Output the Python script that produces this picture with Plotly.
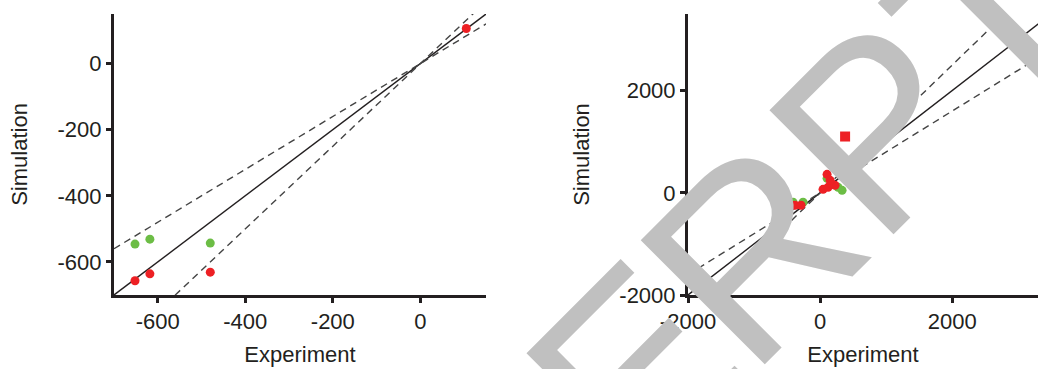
import plotly.graph_objects as go

# ---- left panel data ----
left_green_x = [-652, -618, -480]
left_green_y = [-546, -531, -543]
left_red_x = [-652, -618, -480, 105]
left_red_y = [-657, -636, -631, 106]

# ---- right panel data ----
right_green_x = [-409, -258, 106, 273, 333]
right_green_y = [-185, -185, 283, 107, 49]
right_red_x = [-379, -288, 45, 121, 182, 106, 227, 152]
right_red_y = [-244, -244, 68, 107, 166, 361, 146, 244]
right_sq_x = [379]
right_sq_y = [1102]

# reference guide slopes: 1:1 and the two bounding lines
guide_slopes = [0.8, 1.25]

left_range = [-700, 150]
left_ticks = [-600, -400, -200, 0]
left_ticklabels = ["-600", "-400", "-200", "0"]
right_xrange = [-2000, 3300]
right_yrange = [-2000, 3500]
right_ticks = [-2000, 0, 2000]
right_ticklabels = ["-2000", "0", "2000"]

INK = "#231f20"
RED = "#ed2024"
GREEN = "#6cbd45"
DASH = "#444444"
FONT = "Liberation Sans, Arial, sans-serif"

fig = go.Figure()


def add_guides(xr, xa, ya):
    x0, x1 = xr
    fig.add_trace(go.Scatter(x=[x0, x1], y=[x0, x1], mode="lines",
                             line=dict(color=INK, width=1.4),
                             xaxis=xa, yaxis=ya, showlegend=False, hoverinfo="skip"))
    for k in guide_slopes:
        fig.add_trace(go.Scatter(x=[x0, x1], y=[k * x0, k * x1], mode="lines",
                                 line=dict(color=DASH, width=1.4, dash="7px,5px"),
                                 xaxis=xa, yaxis=ya, showlegend=False, hoverinfo="skip"))


def add_points(x, y, color, xa, ya, symbol="circle", size=9):
    fig.add_trace(go.Scatter(x=x, y=y, mode="markers",
                             marker=dict(color=color, size=size, symbol=symbol,
                                         line=dict(width=0)),
                             xaxis=xa, yaxis=ya, showlegend=False, cliponaxis=False))


add_guides(left_range, "x", "y")
add_points(left_green_x, left_green_y, GREEN, "x", "y")
add_points(left_red_x, left_red_y, RED, "x", "y")

add_guides([-2000, 3500], "x2", "y2")
add_points(right_green_x, right_green_y, GREEN, "x2", "y2")
add_points(right_red_x, right_red_y, RED, "x2", "y2")
add_points(right_sq_x, right_sq_y, RED, "x2", "y2", symbol="square", size=10)

W, H = 1038, 369
y_dom = [(H - 295) / H, (H - 14) / H]

axis_common = dict(
    showline=True, linewidth=3, linecolor=INK,
    ticks="outside", ticklen=5, tickwidth=3, tickcolor=INK,
    showgrid=False, zeroline=False, automargin=False,
    tickfont=dict(family=FONT, size=22, color=INK),
    title_font=dict(family=FONT, size=22, color=INK),
)

fig.update_layout(
    width=W, height=H,
    margin=dict(l=0, r=0, t=0, b=0),
    paper_bgcolor="white", plot_bgcolor="white",
    xaxis=dict(domain=[114 / W, 486 / W], range=left_range, anchor="y",
               tickmode="array", tickvals=left_ticks, ticktext=left_ticklabels,
               title=dict(text="Experiment", standoff=14), **axis_common),
    yaxis=dict(domain=y_dom, range=left_range, anchor="x",
               tickmode="array", tickvals=left_ticks, ticktext=left_ticklabels,
               title=dict(text="Simulation", standoff=24), **axis_common),
    xaxis2=dict(domain=[688 / W, 1.0], range=right_xrange, anchor="y2",
                tickmode="array", tickvals=right_ticks, ticktext=right_ticklabels,
                title=dict(text="Experiment", standoff=14), **axis_common),
    yaxis2=dict(domain=y_dom, range=right_yrange, anchor="x2",
                tickmode="array", tickvals=right_ticks, ticktext=right_ticklabels,
                title=dict(text="Simulation", standoff=24), **axis_common),
)

# grey diagonal watermark lettering across the right panel, one glyph at a time
mark_letters = ["E", "R", "P", "T"]
mark_centres_px = [(633, 369), (752, 251), (876, 126), (990, 13)]
for ch, (px, py) in zip(mark_letters, mark_centres_px):
    fig.add_annotation(
        text=ch, xref="paper", yref="paper", x=px / W, y=1 - py / H,
        xanchor="center", yanchor="middle", textangle=-45, showarrow=False,
        font=dict(family=FONT, size=255, color="#c0c0c0"),
    )

fig.write_html("out.html")
